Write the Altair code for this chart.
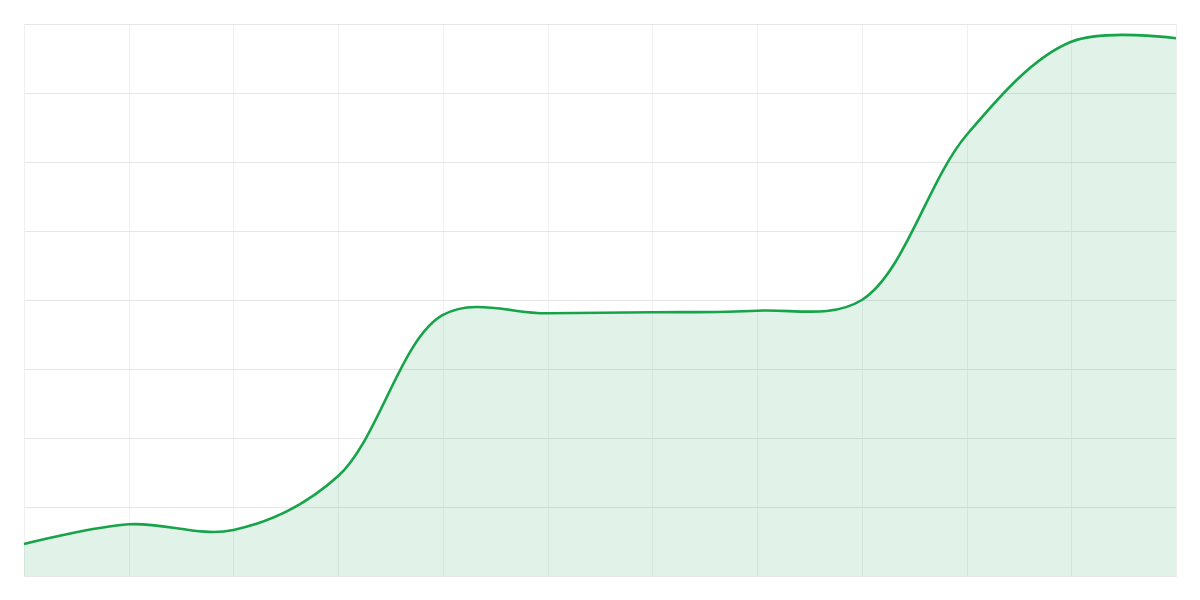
import altair as alt
import pandas as pd

x_vals = [0, 1, 2, 3, 4, 5, 6, 7, 8, 9, 10, 11]
y_vals = [4.64, 7.49, 6.67, 14.49, 37.83, 38.07, 38.22, 38.45, 40.0, 63.91, 77.43, 77.93]
y_ticks = [0, 10, 20, 30, 40, 50, 60, 70, 80]

df = pd.DataFrame({"x": x_vals, "y": y_vals})

LINE = "#16a34a"

x_enc = alt.X("x:Q", scale=alt.Scale(domain=[0, 11], nice=False, zero=False),
              axis=alt.Axis(values=x_vals, labels=False, ticks=False, domain=False,
                            title=None, grid=True, gridColor="#f0f0f0", gridWidth=1))
y_enc = alt.Y("y:Q", scale=alt.Scale(domain=[0, 80], nice=False),
              axis=alt.Axis(values=y_ticks, labels=False, ticks=False, domain=False,
                            title=None, grid=True, gridColor="#e6e6e6", gridWidth=1))

area = alt.Chart(df).mark_area(interpolate="catmull-rom", color=LINE, opacity=0.13).encode(
    x=x_enc, y=y_enc)
line = alt.Chart(df).mark_line(interpolate="catmull-rom", color=LINE, strokeWidth=2.6).encode(
    x="x:Q", y="y:Q")

chart = alt.layer(area, line).properties(
    width=1152, height=552,
    padding={"left": 16, "top": 16, "right": 16, "bottom": 16},
    autosize=alt.AutoSizeParams(type="none"),
).configure_view(stroke=None)

chart.save("out.html", embed_options={"renderer": "svg", "actions": False})
